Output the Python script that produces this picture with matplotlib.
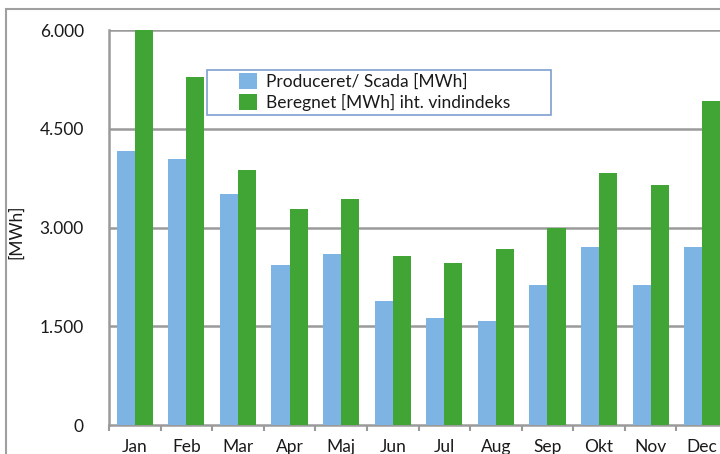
import matplotlib
matplotlib.use("Agg")
import matplotlib.pyplot as plt
from matplotlib.patches import Rectangle
import numpy as np

plt.rcParams['font.family'] = ['Lato', 'DejaVu Sans']

months = ["Jan", "Feb", "Mar", "Apr", "Maj", "Jun", "Jul", "Aug", "Sep", "Okt", "Nov", "Dec"]
produceret = [4160, 4040, 3510, 2430, 2600, 1885, 1625, 1580, 2125, 2705, 2125, 2705]
beregnet = [6000, 5285, 3875, 3280, 3435, 2565, 2460, 2670, 2990, 3830, 3645, 4920]
yticks = [0, 1500, 3000, 4500, 6000]
ytick_labels = ["0", "1.500", "3.000", "4.500", "6.000"]

blue = "#7EB4E3"
green = "#41A535"
grid = "#9a9a9a"
W, H = 720, 454

fig = plt.figure(figsize=(7.2, 4.54), dpi=100)
# outer chart frame
fig.patches.append(Rectangle((6/W, -0.2), 1.2, 1.2 - 9/H, transform=fig.transFigure,
                             fill=False, edgecolor="#a0a0a0", linewidth=1.5, zorder=0))

ax = fig.add_axes([109/W, 1 - 425/H, 619/W, 395/H])
x = np.arange(len(months))
w = 0.35
ax.bar(x - w/2, produceret, width=w, color=blue, label="Produceret/ Scada [MWh]", zorder=3)
ax.bar(x + w/2, beregnet, width=w, color=green, label="Beregnet [MWh] iht. vindindeks", zorder=3)

ax.set_xlim(-0.5, len(months) - 0.5)
ax.set_ylim(0, 6000)
ax.set_yticks(yticks)
ax.set_yticklabels(ytick_labels)
ax.set_xticks(x)
ax.set_xticklabels(months)
ax.set_xticks(np.arange(-0.5, len(months), 1), minor=True)

for yv in yticks[1:]:
    ax.axhline(yv, color=grid, linewidth=1.8, zorder=1)

for s in ["top", "right"]:
    ax.spines[s].set_visible(False)
for s in ["left", "bottom"]:
    ax.spines[s].set_color(grid)
    ax.spines[s].set_linewidth(1.8)

ax.tick_params(axis="y", length=0, pad=18, labelsize=12.5, labelcolor="#1a1a1a")
ax.tick_params(axis="x", which="major", length=0, pad=10, labelsize=12.5, labelcolor="#1a1a1a")
ax.tick_params(axis="x", which="minor", length=4, width=1.5, color=grid)

ax.set_ylabel("[MWh]", fontsize=12.5, color="#1a1a1a")
ax.yaxis.set_label_coords((24 - 109) / 619, (425 - 232) / 395)

# legend frame
fig.patches.append(Rectangle((207/W, 1 - 115/H), (551-207)/W, 45/H, transform=fig.transFigure,
                             fill=True, facecolor="white", edgecolor="#7F9FCF", linewidth=1.2, zorder=4))
leg = fig.legend(*ax.get_legend_handles_labels(), loc="upper left",
                 bbox_to_anchor=(239/W, 1 - 73/H), bbox_transform=fig.transFigure,
                 frameon=False, fontsize=12.5, handlelength=1.03, handleheight=1.0, handletextpad=0.55,
                 borderpad=0, labelspacing=0.25, borderaxespad=0)
leg.set_zorder(5)
for t in leg.get_texts():
    t.set_color("#1a1a1a")

fig.savefig("out.png", dpi=100)
